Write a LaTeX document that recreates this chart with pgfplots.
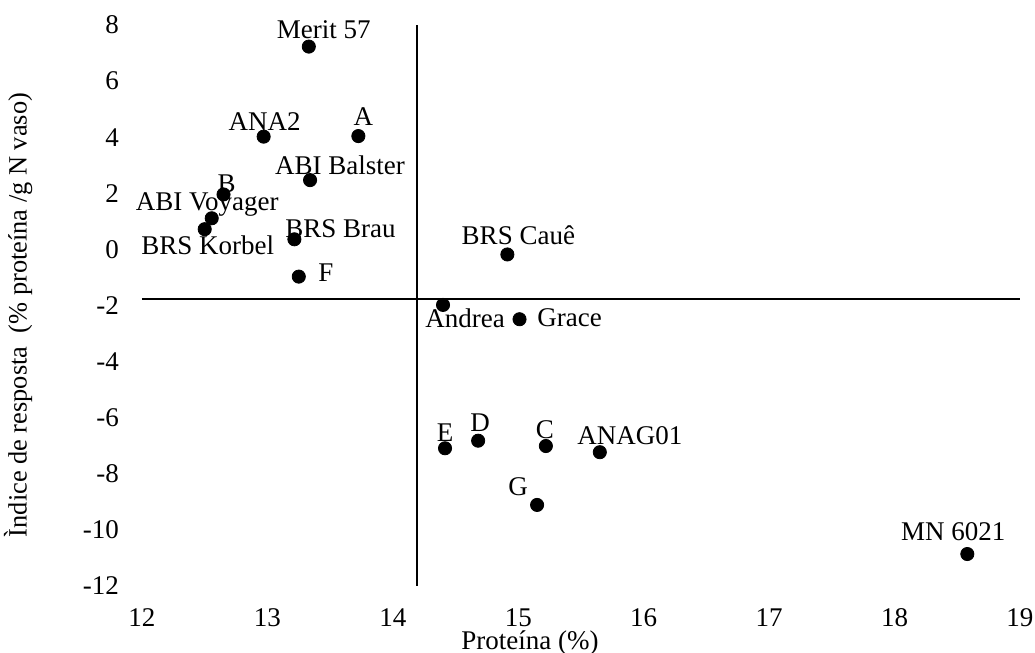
\documentclass[border=0pt]{standalone}
\usepackage{pgfplots}
\pgfplotsset{compat=1.18}
\usepackage{pgfplotstable}
\usepackage{fontspec}
\setmainfont{Liberation Serif}
\pgfplotstableread{
x y label dx dy
13.33 7.23 {Merit 57} 7.5 8.5
12.97 4.02 {ANA2} 0.5 7.5
13.725 4.04 {A} 2.5 9.5
13.34 2.47 {ABI Balster} 15 7.5
12.65 1.96 {B} 1.5 5.5
12.556 1.11 {ABI Voyager} -2.3 6.7
12.50 0.72 {BRS Korbel} 1.5 -8
13.215 0.36 {BRS Brau} 23 5.5
13.25 -0.97 {F} 13.5 2
14.913 -0.18 {BRS Cauê} 5.5 9.5
14.40 -1.98 {Andrea} 11 -6.5
15.01 -2.49 {Grace} 25 1
14.416 -7.09 {E} 0 8
14.68 -6.82 {D} 1 9
15.22 -7.01 {C} -0.5 8
15.65 -7.23 {ANAG01} 15 8.5
15.15 -9.11 {G} -9.5 9
18.58 -10.86 {MN 6021} -7 11
}\pts
\begin{document}
\begin{tikzpicture}
\begin{axis}[
  scale only axis, width=439pt, height=280.5pt,
  xmin=12, xmax=19, ymin=-12, ymax=8,
  axis line style={draw=none},
  xtick={12,...,19}, ytick={-12,-10,...,8},
  major tick length=0pt,
  tick label style={font=\fontsize{13.5}{15}\selectfont},
  /pgf/number format/assume math mode=true,
  xticklabel style={anchor=north, text height=9pt, text depth=0pt, inner sep=0pt, yshift=-11pt},
  yticklabel style={xshift=-8pt},
  label style={font=\fontsize{13.5}{15}\selectfont},
  xlabel={Proteína (\%)},
  ylabel={\fontsize{13.2}{15}\selectfont Ìndice de resposta\ \ (\% proteína /g N vaso)},
  xlabel style={at={(rel axis cs:0.442,-0.102)}, anchor=center},
  ylabel style={at={(rel axis cs:-0.1412,0.483)}, anchor=center},
  clip=false,
]
\coordinate (bl) at (rel axis cs:0,0);
\addplot[black, line width=0.9pt] coordinates {(14.19,-12) (14.19,8)};
\addplot[black, line width=0.9pt] coordinates {(12,-1.78) (19,-1.78)};
\addplot[only marks, mark=*, mark size=3.3pt, black,
  nodes near coords, point meta=explicit symbolic,
  visualization depends on={\thisrow{dx}\as\dx},
  visualization depends on={\thisrow{dy}\as\dy},
  every node near coord/.style={anchor=center, inner sep=0pt, font=\fontsize{13.5}{15}\selectfont, xshift=\dx pt, yshift=\dy pt}]
  table[x=x, y=y, meta=label] {\pts};
\end{axis}
\pgfresetboundingbox
\path[use as bounding box] ([shift={(-71pt,-33.5pt)}]bl) rectangle ([shift={(446.5pt,293pt)}]bl);
\end{tikzpicture}
\end{document}
